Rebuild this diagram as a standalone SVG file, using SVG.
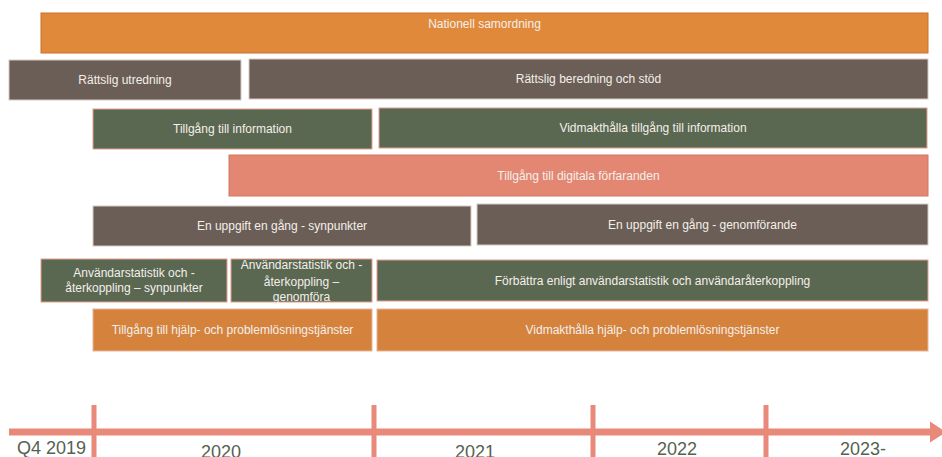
<svg xmlns="http://www.w3.org/2000/svg" width="942" height="457" viewBox="0 0 942 457">
<style>
.bar{stroke-width:1}
.orange{fill:#E1893B;stroke:#C9722C}
.orange2{fill:#D4823C;stroke:#E8B49A}
.brown{fill:#6A5E56;stroke:#D9C9C0}
.green{fill:#5A6751;stroke:#E3A08E}
.salmon{fill:#E38773;stroke:#D27663}
.lbl{font-family:"Liberation Sans",Arial,sans-serif;font-size:12px;fill:#F4EFEA;text-anchor:middle}
.yr{font-family:"Liberation Sans",Arial,sans-serif;font-size:18px;fill:#56614F;text-anchor:middle}
.axis{fill:#E8897A}
</style>
<rect width="942" height="457" fill="#FFFFFF"/>
<g id="nationell"><rect class="bar orange" x="41" y="13" width="887" height="40"/><text class="lbl" x="484.5" y="28">Nationell samordning</text></g>
<g id="rattslig-utredning"><rect class="bar brown" x="9" y="60" width="232" height="40"/><text class="lbl" x="125" y="84">Rättslig utredning</text></g>
<g id="rattslig-beredning"><rect class="bar brown" x="249" y="59" width="679" height="40"/><text class="lbl" x="588.5" y="83">Rättslig beredning och stöd</text></g>
<g id="tillgang-info"><rect class="bar green" x="93" y="109" width="279" height="40"/><text class="lbl" x="232.5" y="133">Tillgång till information</text></g>
<g id="vidmakthalla-info"><rect class="bar green" x="379" y="108" width="548" height="40"/><text class="lbl" x="653" y="132">Vidmakthålla tillgång till information</text></g>
<g id="digitala"><rect class="bar salmon" x="229" y="155" width="699" height="41"/><text class="lbl" x="578.5" y="180">Tillgång till digitala förfaranden</text></g>
<g id="en-uppgift-synpunkter"><rect class="bar brown" x="93" y="206" width="378" height="40"/><text class="lbl" x="282" y="230">En uppgift en gång - synpunkter</text></g>
<g id="en-uppgift-genomforande"><rect class="bar brown" x="477" y="204" width="451" height="41"/><text class="lbl" x="702.5" y="229">En uppgift en gång - genomförande</text></g>
<g id="anv-synpunkter"><rect class="bar green" x="41" y="259" width="186" height="43"/><text class="lbl" x="134" y="277">Användarstatistik och -</text><text class="lbl" x="134" y="292">återkoppling – synpunkter</text></g>
<g id="anv-genomfora"><rect class="bar green" x="231" y="259" width="141" height="43"/><text class="lbl" x="301.5" y="269">Användarstatistik och -</text><text class="lbl" x="301.5" y="286">återkoppling –</text><text class="lbl" x="301.5" y="301">genomföra</text></g>
<g id="forbattra"><rect class="bar green" x="377" y="260" width="551" height="41"/><text class="lbl" x="652.5" y="285">Förbättra enligt användarstatistik och användaråterkoppling</text></g>
<g id="tillgang-hjalp"><rect class="bar orange2" x="93" y="309" width="279" height="42"/><text class="lbl" x="232.5" y="334">Tillgång till hjälp- och problemlösningstjänster</text></g>
<g id="vidmakthalla-hjalp"><rect class="bar orange2" x="377" y="309" width="551" height="42"/><text class="lbl" x="652.5" y="334">Vidmakthålla hjälp- och problemlösningstjänster</text></g>
<g id="connectors">
<rect class="axis" x="9" y="428.5" width="923" height="7"/>
<polygon class="axis" points="930,421.5 946,432 930,442.5"/>
<rect class="axis" x="91.5" y="405" width="5" height="52"/>
<rect class="axis" x="371.5" y="405" width="5" height="52"/>
<rect class="axis" x="590.5" y="405" width="5" height="52"/>
<rect class="axis" x="763.5" y="405" width="5" height="52"/>
</g>
<g id="labels">
<text class="yr" x="51.5" y="454">Q4 2019</text>
<text class="yr" x="221" y="458">2020</text>
<text class="yr" x="475" y="458">2021</text>
<text class="yr" x="677" y="455">2022</text>
<text class="yr" x="863" y="455">2023-</text>
</g>
</svg>
